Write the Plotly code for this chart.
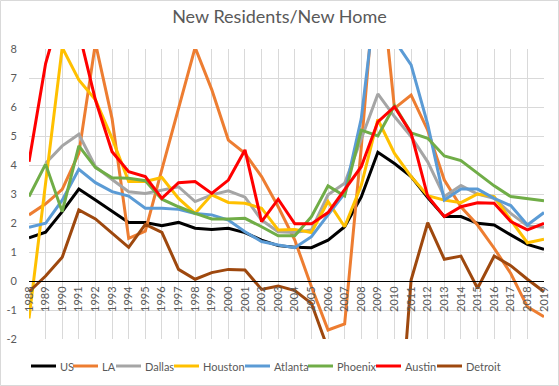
import plotly.graph_objects as go

years = list(range(1988, 2020))
year_labels = [str(y) for y in years]

us = [1.49, 1.68, 2.39, 3.17, 2.79, 2.41, 2.02, 2.02,
      1.91, 2.02, 1.82, 1.78, 1.82, 1.67, 1.41, 1.22,
      1.16, 1.15, 1.41, 1.87, 2.9, 4.44, 4.05, 3.6,
      2.88, 2.22, 2.22, 1.99, 1.93, 1.59, 1.26, 1.09]
la = [2.28, 2.66, 3.16, 4.4, 8.2, 5.6, 1.47, 1.72,
      3.85, 6.0, 8.05, 6.6, 4.86, 4.4, 3.6, 2.56,
      1.41, -0.2, -1.69, -1.48, 4.6, 11.5, 5.95, 6.41,
      5.2, 3.48, 2.56, 1.93, 1.13, 0.26, -0.89, -1.23]
dallas = [None, 4.06, 4.66, 5.06, 3.94, 3.5, 3.08, 3.02,
          3.14, 3.25, 2.74, 2.97, 3.11, 2.89, 2.1, 1.7,
          1.67, 1.76, 2.97, 3.37, 4.9, 6.45, 5.67, 4.98,
          4.11, 2.91, 3.29, 3.0, 2.85, 2.33, 1.9, 1.85]
houston = [-1.29, 3.4, 8.05, 6.93, 6.25, 4.92, 3.43, 3.43,
           3.57, 2.85, 2.33, 2.97, 2.71, 2.68, 2.51, 1.76,
           1.78, 1.67, 2.74, 1.87, 3.3, 5.57, 4.4, 3.6,
           2.94, 2.79, 2.7, 3.0, 2.91, 2.1, 1.32, 1.44]
atlanta = [1.85, 1.99, 2.79, 3.85, 3.39, 3.08, 2.93, 2.51,
           2.51, 2.47, 2.33, 2.28, 2.1, 1.7, 1.36, 1.24,
           1.15, 1.53, 2.28, 3.02, 5.6, 10.4, 8.3, 7.45,
           5.4, 2.79, 3.17, 3.17, 2.85, 2.6, 1.93, 2.36]
phoenix = [2.91, 4.03, 2.39, 4.66, 3.91, 3.56, 3.54, 3.46,
           2.82, 2.56, 2.33, 2.14, 2.14, 2.16, 1.87, 1.56,
           1.56, 2.22, 3.28, 2.93, 5.2, 5.0, 6.04, 5.11,
           4.92, 4.31, 4.15, 3.71, 3.28, 2.91, 2.85, 2.77]
austin = [4.11, 7.5, 9.5, 8.6, 6.24, 4.46, 3.77, 3.6,
          2.85, 3.39, 3.43, 3.02, 3.48, 4.52, 2.05, 2.82,
          1.97, 1.97, 2.36, 3.14, 3.94, 5.49, 6.01, 5.1,
          2.92, 2.22, 2.56, 2.7, 2.68, 2.05, 1.76, 1.99]
detroit = [-0.37, 0.17, 0.82, 2.45, 2.14, 1.64, 1.16, 1.95,
           1.68, 0.4, 0.06, 0.29, 0.4, 0.38, -0.29, -0.17,
           -0.33, -0.77, -2.35, -5.0, -9.0, -12.0, -7.4, 0.03,
           2.01, 0.75, 0.86, -0.25, 0.86, 0.53, 0.06, -0.37]

series_names = ["US", "LA", "Dallas", "Houston", "Atlanta", "Phoenix", "Austin", "Detroit"]
series_values = [us, la, dallas, houston, atlanta, phoenix, austin, detroit]
series_colors = ["#000000", "#ED7D31", "#A5A5A5", "#FFC000", "#5B9BD5", "#70AD47", "#FF0000", "#9E480E"]

y_ticks = [-2, -1, 0, 1, 2, 3, 4, 5, 6, 7, 8]
y_tick_labels = ["-2", "-1", "0", "1", "2", "3", "4", "5", "6", "7", "8"]

FONT = "Lato, Liberation Sans, Arial, sans-serif"
GRAY_TXT = "#595959"
W, H = 559, 386
ML, MR, MT, MB = 29, 15, 49, 47
pw = W - ML - MR
ph = H - MT - MB

# legend layout (pixel x of each swatch start; text follows)
LEG_X = [31, 73, 116, 174, 245, 308, 376, 437]
LEG_Y = 366
SW = 25


def px_to_paper_x(px):
    return (px - ML) / pw


def py_to_paper_y(py):
    return (H - MB - py) / ph


fig = go.Figure()
for name, vals, col in zip(series_names, series_values, series_colors):
    fig.add_trace(go.Scatter(x=years, y=vals, name=name, mode="lines",
                             line=dict(color=col, width=3), showlegend=False))

fig.update_layout(
    width=W, height=H,
    margin=dict(l=ML, r=MR, t=MT, b=MB, pad=0, autoexpand=False),
    paper_bgcolor="white", plot_bgcolor="white",
    font=dict(family=FONT, color=GRAY_TXT),
    title=dict(text="New Residents/New Home", x=0.5, xanchor="center",
               y=1 - 17 / H, yanchor="middle",
               font=dict(size=18, color=GRAY_TXT, family=FONT)),
    showlegend=False,
    xaxis=dict(range=[1988, 2019], tickmode="array", tickvals=years, ticktext=year_labels,
               tickangle=-90, showgrid=True, gridcolor="#D9D9D9", gridwidth=1,
               anchor="free", position=0.2, showline=True, linecolor="#000000", linewidth=1,
               ticks="", tickfont=dict(size=11, color=GRAY_TXT, family=FONT),
               zeroline=False, fixedrange=True, automargin=False),
    yaxis=dict(range=[-2, 8], tickmode="array", tickvals=y_ticks, ticktext=y_tick_labels,
               showgrid=True, gridcolor="#D9D9D9", gridwidth=1, domain=[0, 1],
               zeroline=True, zerolinecolor="#000000", zerolinewidth=1,
               showline=False, ticks="", ticklabelstandoff=11,
               tickfont=dict(size=11, color=GRAY_TXT, family=FONT), fixedrange=True,
               automargin=False),
)

# legend drawn as swatches + labels
for name, col, lx in zip(series_names, series_colors, LEG_X):
    fig.add_shape(type="line", xref="paper", yref="paper",
                  x0=px_to_paper_x(lx), x1=px_to_paper_x(lx + SW),
                  y0=py_to_paper_y(LEG_Y), y1=py_to_paper_y(LEG_Y),
                  line=dict(color=col, width=3))
    fig.add_annotation(text=name, xref="paper", yref="paper",
                       x=px_to_paper_x(lx + SW + 2), y=py_to_paper_y(LEG_Y),
                       xanchor="left", yanchor="middle", showarrow=False,
                       font=dict(size=11, color=GRAY_TXT, family=FONT))

# chart-area border
fig.add_shape(type="rect", xref="paper", yref="paper",
              x0=px_to_paper_x(0.5), x1=px_to_paper_x(W - 0.5),
              y0=py_to_paper_y(H - 0.5), y1=py_to_paper_y(0.5),
              line=dict(color="#D9D9D9", width=1), fillcolor="rgba(0,0,0,0)", layer="below")

fig.write_html("out.html", config={"displayModeBar": False},
               post_script="document.body.style.margin='0';")
